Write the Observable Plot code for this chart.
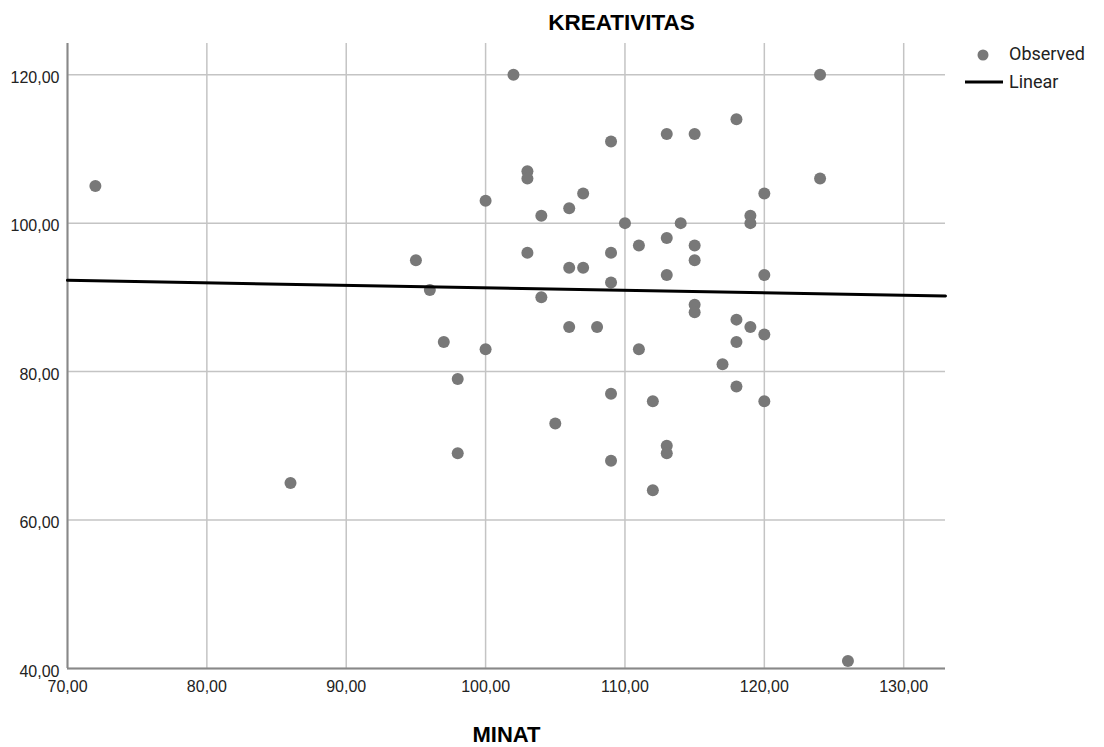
<!DOCTYPE html>
<html>
<head>
<meta charset="utf-8">
<script src="https://cdn.jsdelivr.net/npm/d3@7"></script>
<script src="https://cdn.jsdelivr.net/npm/@observablehq/plot@0.6"></script>
<style>
  html, body { margin: 0; padding: 0; background: #fff; }
  #wrap { position: relative; width: 1104px; height: 747px; font-family: "Liberation Sans", Arial, sans-serif; }
  #title { position: absolute; left: 0; width: 1243px; top: 10px; text-align: center; font-size: 22.5px; font-weight: bold; color: #000; }
  .leg { position: absolute; font-size: 18px; color: #222; font-family: Roboto, "Liberation Sans", sans-serif; }
</style>
</head>
<body>
<div id="wrap">
  <div id="title">KREATIVITAS</div>
  <div id="chart"></div>
  <svg style="position:absolute;left:960px;top:45px" width="50" height="50">
    <circle cx="23" cy="10" r="5.5" fill="#787878"></circle>
    <line x1="5" x2="43" y1="37" y2="37" stroke="#000" stroke-width="3"></line>
  </svg>
  <div class="leg" style="left:1009px;top:43px">Observed</div>
  <div class="leg" style="left:1009px;top:71px">Linear</div>
</div>
<script>
const minat = [72,86,95,96,97,98,98,100,100,102,103,103,103,104,104,105,106,106,106,107,107,108,109,109,109,109,109,110,111,111,112,112,113,113,113,113,113,114,115,115,115,115,115,117,118,118,118,118,119,119,119,120,120,120,120,124,124,126];
const kreativitas = [105,65,95,91,84,79,69,103,83,120,107,106,96,101,90,73,102,94,86,104,94,86,111,96,92,77,68,100,97,83,76,64,112,98,93,70,69,100,112,97,95,89,88,81,114,87,84,78,101,100,86,104,93,85,76,120,106,41];
const xTicks = [70,80,90,100,110,120,130];
const yTicks = [40,60,80,100,120];
const xDomain = [70,133];
const yDomain = [40,124.2];

const data = minat.map((x,i) => ({x, y: kreativitas[i]}));
// least-squares fit
const mx = d3.mean(minat), my = d3.mean(kreativitas);
const b = d3.sum(data, d => (d.x-mx)*(d.y-my)) / d3.sum(data, d => (d.x-mx)**2);
const a = my - b*mx;
const fit = xDomain.map(x => ({x, y: a + b*x}));

const fmt = d => d3.format(".2f")(d).replace(".", ",");

const chart = Plot.plot({
  width: 1104,
  height: 747,
  marginLeft: 67,
  marginRight: 159,
  marginTop: 43,
  marginBottom: 79,
  style: {fontFamily: "'Liberation Sans', Arial, sans-serif", fontSize: "16px", color: "#222", background: "#fff"},
  x: {domain: xDomain},
  y: {domain: yDomain},
  marks: [
    Plot.gridX(xTicks, {stroke: "#c4c4c4", strokeOpacity: 1, strokeWidth: 1.5}),
    Plot.gridY(yTicks, {stroke: "#c4c4c4", strokeOpacity: 1, strokeWidth: 1.5}),
    Plot.ruleX([70], {stroke: "#888", strokeWidth: 2}),
    Plot.ruleY([40], {stroke: "#888", strokeWidth: 2}),
    Plot.axisY({ticks: yTicks, tickFormat: fmt, tickSize: 0, tickPadding: 8, dy: 3, fontSize: 16, label: null}),
    Plot.axisX({ticks: xTicks, tickFormat: fmt, tickSize: 0, tickPadding: 12, fontSize: 16, label: "MINAT", labelAnchor: "center", labelArrow: "none", labelOffset: 73}),
    Plot.dot(data, {x: "x", y: "y", r: 6, fill: "#787878", stroke: "none"}),
    Plot.line(fit, {x: "x", y: "y", stroke: "#000", strokeWidth: 3})
  ]
});
document.getElementById("chart").appendChild(chart);
// style the axis label
chart.querySelectorAll("text").forEach(t => {
  if (t.textContent === "MINAT") { t.setAttribute("font-size", "22"); t.setAttribute("font-weight", "bold"); t.setAttribute("fill", "#000"); }
});
</script>
</body>
</html>
